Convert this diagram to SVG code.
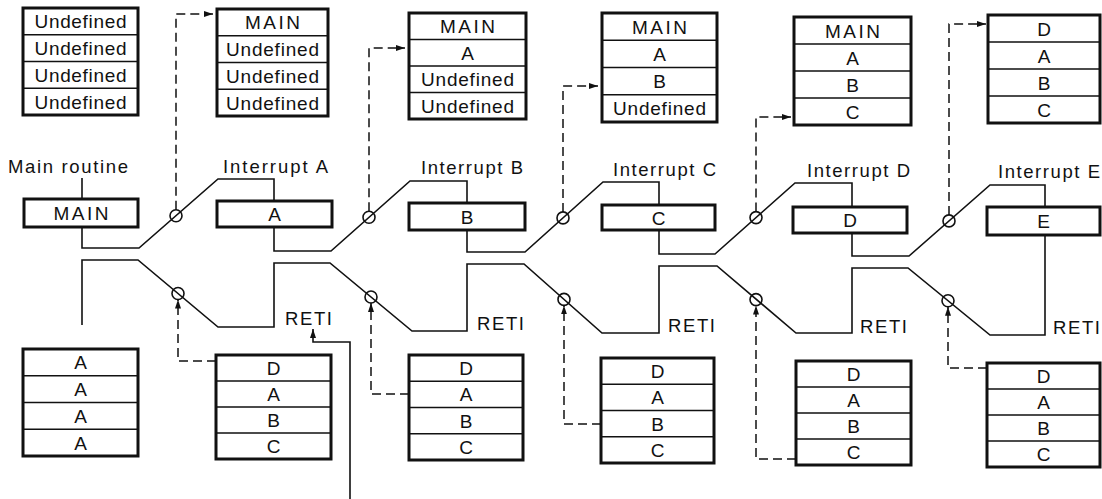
<svg xmlns="http://www.w3.org/2000/svg" width="1102" height="499" viewBox="0 0 1102 499">
<style>
.t{font-family:"Liberation Sans",Arial,Helvetica,sans-serif;font-size:19px;fill:#111;text-anchor:middle}
.l{font-family:"Liberation Sans",Arial,Helvetica,sans-serif;font-size:18.5px;fill:#111}
.box{fill:#fff;stroke:#111;stroke-width:3}
.div{stroke:#111;stroke-width:1.5}
.flow{fill:none;stroke:#111;stroke-width:1.6;stroke-linejoin:miter}
.dash{fill:none;stroke:#111;stroke-width:1.5;stroke-dasharray:9 5}
.ring{fill:none;stroke:#111;stroke-width:1.6}
</style>
<defs>
<marker id="ah" viewBox="0 0 9 6" refX="9" refY="3" markerWidth="9" markerHeight="6" markerUnits="userSpaceOnUse" orient="auto" preserveAspectRatio="none"><path d="M0,0 L9,3 L0,6 z" fill="#111"/></marker>
</defs>
<rect x="0" y="0" width="1102" height="499" fill="#fff"/>

<g id="connectors">
<path class="flow" d="M82,178 V199 M82,227 V248 H139 L218,179 H274 V201"/>
<path class="flow" d="M274,227 V251 H331 L410,181 H467 V203"/>
<path class="flow" d="M467,230 V252 H525 L603,182 H659 V205"/>
<path class="flow" d="M659,230 V254 H715 L795,183 H852 V207"/>
<path class="flow" d="M852,233 V256 H909 L990,185 H1045 V207"/>
<path class="flow" d="M1045,235 V335 H990 L908,268 H852 V333 H796 L717,266 H659 V333 H602 L524,264 H467 V331 H412 L330,263 H274 V327 H218 L138,260 H82 V325"/>
<circle class="ring" cx="176" cy="215.7" r="6"/>
<circle class="ring" cx="369" cy="217.3" r="6"/>
<circle class="ring" cx="563" cy="217.9" r="6"/>
<circle class="ring" cx="756" cy="217.6" r="6"/>
<circle class="ring" cx="949" cy="220.9" r="6"/>
<circle class="ring" cx="178" cy="293.5" r="6"/>
<circle class="ring" cx="371" cy="297" r="6"/>
<circle class="ring" cx="564" cy="299.4" r="6"/>
<circle class="ring" cx="756" cy="299.6" r="6"/>
<circle class="ring" cx="948" cy="300.7" r="6"/>
<path class="dash" d="M176,209.7 V14 H213" marker-end="url(#ah)"/>
<path class="dash" d="M369,211.3 V48 H405" marker-end="url(#ah)"/>
<path class="dash" d="M563,211.9 V86 H598" marker-end="url(#ah)"/>
<path class="dash" d="M756,211.6 V117 H791" marker-end="url(#ah)"/>
<path class="dash" d="M949,214.9 V24 H986" marker-end="url(#ah)"/>
<path class="dash" d="M216,361 H178 V299.5" marker-end="url(#ah)"/>
<path class="dash" d="M409,394 H371 V303" marker-end="url(#ah)"/>
<path class="dash" d="M601,424 H564 V305.4" marker-end="url(#ah)"/>
<path class="dash" d="M796,459 H756 V305.6" marker-end="url(#ah)"/>
<path class="dash" d="M987,368 H948 V306.7" marker-end="url(#ah)"/>
<path class="flow" d="M350,499 V342 H313 V329" marker-end="url(#ah)"/>
</g>

<g id="labels">
<text class="l" x="8" y="173" textLength="120" lengthAdjust="spacing">Main routine</text>
<text class="l" x="223" y="173" textLength="105" lengthAdjust="spacing">Interrupt A</text>
<text class="l" x="421" y="174" textLength="102" lengthAdjust="spacing">Interrupt B</text>
<text class="l" x="613" y="176" textLength="103" lengthAdjust="spacing">Interrupt C</text>
<text class="l" x="807" y="177" textLength="103" lengthAdjust="spacing">Interrupt D</text>
<text class="l" x="998" y="178" textLength="102" lengthAdjust="spacing">Interrupt E</text>
<text class="l" x="285" y="325" textLength="47" lengthAdjust="spacing">RETI</text>
<text class="l" x="477" y="330" textLength="47" lengthAdjust="spacing">RETI</text>
<text class="l" x="668" y="332" textLength="47" lengthAdjust="spacing">RETI</text>
<text class="l" x="860" y="333" textLength="47" lengthAdjust="spacing">RETI</text>
<text class="l" x="1053" y="334" textLength="47" lengthAdjust="spacing">RETI</text>
</g>

<g id="box-main"><rect class="box" x="24" y="199" width="114" height="28"/><text class="t" x="81" y="220" textLength="55" lengthAdjust="spacing">MAIN</text></g>
<g id="box-a"><rect class="box" x="217" y="201" width="115" height="26"/><text class="t" x="274.5" y="221">A</text></g>
<g id="box-b"><rect class="box" x="409" y="203" width="116" height="27"/><text class="t" x="467" y="223.5">B</text></g>
<g id="box-c"><rect class="box" x="602" y="205" width="113" height="25"/><text class="t" x="658.5" y="224.5">C</text></g>
<g id="box-d"><rect class="box" x="793" y="207" width="114" height="26"/><text class="t" x="850" y="227">D</text></g>
<g id="box-e"><rect class="box" x="987" y="207" width="113" height="28"/><text class="t" x="1043.5" y="228">E</text></g>

<g id="stack-top-0">
<rect class="box" x="23" y="8" width="115" height="107"/>
<path class="div" d="M23,34.75 H138 M23,61.5 H138 M23,88.25 H138"/>
<text class="t" x="80.5" y="28.4" textLength="92" lengthAdjust="spacing">Undefined</text>
<text class="t" x="80.5" y="55.1" textLength="92" lengthAdjust="spacing">Undefined</text>
<text class="t" x="80.5" y="81.9" textLength="92" lengthAdjust="spacing">Undefined</text>
<text class="t" x="80.5" y="108.6" textLength="92" lengthAdjust="spacing">Undefined</text>
</g>
<g id="stack-top-1">
<rect class="box" x="217" y="9" width="111" height="107"/>
<path class="div" d="M217,35.75 H328 M217,62.5 H328 M217,89.25 H328"/>
<text class="t" x="272.5" y="29.4" textLength="55" lengthAdjust="spacing">MAIN</text>
<text class="t" x="272.5" y="56.1" textLength="93" lengthAdjust="spacing">Undefined</text>
<text class="t" x="272.5" y="82.9" textLength="93" lengthAdjust="spacing">Undefined</text>
<text class="t" x="272.5" y="109.6" textLength="93" lengthAdjust="spacing">Undefined</text>
</g>
<g id="stack-top-2">
<rect class="box" x="409" y="13" width="117" height="106"/>
<path class="div" d="M409,39.5 H526 M409,66 H526 M409,92.5 H526"/>
<text class="t" x="467.5" y="33.25" textLength="55" lengthAdjust="spacing">MAIN</text>
<text class="t" x="467.5" y="59.75">A</text>
<text class="t" x="467.5" y="86.25" textLength="93" lengthAdjust="spacing">Undefined</text>
<text class="t" x="467.5" y="112.75" textLength="93" lengthAdjust="spacing">Undefined</text>
</g>
<g id="stack-top-3">
<rect class="box" x="602" y="13" width="115" height="109"/>
<path class="div" d="M602,40.25 H717 M602,67.5 H717 M602,94.75 H717"/>
<text class="t" x="659.5" y="33.6" textLength="55" lengthAdjust="spacing">MAIN</text>
<text class="t" x="659.5" y="60.9">A</text>
<text class="t" x="659.5" y="88.1">B</text>
<text class="t" x="659.5" y="115.4" textLength="93" lengthAdjust="spacing">Undefined</text>
</g>
<g id="stack-top-4">
<rect class="box" x="794" y="17" width="117" height="108"/>
<path class="div" d="M794,44 H911 M794,71 H911 M794,98 H911"/>
<text class="t" x="852.5" y="37.5" textLength="55" lengthAdjust="spacing">MAIN</text>
<text class="t" x="852.5" y="64.5">A</text>
<text class="t" x="852.5" y="91.5">B</text>
<text class="t" x="852.5" y="118.5">C</text>
</g>
<g id="stack-top-5">
<rect class="box" x="988" y="15" width="112" height="108"/>
<path class="div" d="M988,42 H1100 M988,69 H1100 M988,96 H1100"/>
<text class="t" x="1044" y="35.5">D</text>
<text class="t" x="1044" y="62.5">A</text>
<text class="t" x="1044" y="89.5">B</text>
<text class="t" x="1044" y="116.5">C</text>
</g>

<g id="stack-bot-0">
<rect class="box" x="23" y="349" width="115" height="107"/>
<path class="div" d="M23,375.75 H138 M23,402.5 H138 M23,429.25 H138"/>
<text class="t" x="80.5" y="369.4">A</text>
<text class="t" x="80.5" y="396.1">A</text>
<text class="t" x="80.5" y="422.9">A</text>
<text class="t" x="80.5" y="449.6">A</text>
</g>
<g id="stack-bot-1">
<rect class="box" x="216" y="355" width="115" height="104"/>
<path class="div" d="M216,381 H331 M216,407 H331 M216,433 H331"/>
<text class="t" x="273.5" y="375">D</text>
<text class="t" x="273.5" y="401">A</text>
<text class="t" x="273.5" y="427">B</text>
<text class="t" x="273.5" y="453">C</text>
</g>
<g id="stack-bot-2">
<rect class="box" x="409" y="355" width="114" height="105"/>
<path class="div" d="M409,381.25 H523 M409,407.5 H523 M409,433.75 H523"/>
<text class="t" x="466" y="375.1">D</text>
<text class="t" x="466" y="401.4">A</text>
<text class="t" x="466" y="427.6">B</text>
<text class="t" x="466" y="453.9">C</text>
</g>
<g id="stack-bot-3">
<rect class="box" x="601" y="358" width="113" height="105"/>
<path class="div" d="M601,384.25 H714 M601,410.5 H714 M601,436.75 H714"/>
<text class="t" x="657.5" y="378.1">D</text>
<text class="t" x="657.5" y="404.4">A</text>
<text class="t" x="657.5" y="430.6">B</text>
<text class="t" x="657.5" y="456.9">C</text>
</g>
<g id="stack-bot-4">
<rect class="box" x="796" y="361" width="115" height="104"/>
<path class="div" d="M796,387 H911 M796,413 H911 M796,439 H911"/>
<text class="t" x="853.5" y="381">D</text>
<text class="t" x="853.5" y="407">A</text>
<text class="t" x="853.5" y="433">B</text>
<text class="t" x="853.5" y="459">C</text>
</g>
<g id="stack-bot-5">
<rect class="box" x="987" y="363" width="113" height="104"/>
<path class="div" d="M987,389 H1100 M987,415 H1100 M987,441 H1100"/>
<text class="t" x="1043.5" y="383">D</text>
<text class="t" x="1043.5" y="409">A</text>
<text class="t" x="1043.5" y="435">B</text>
<text class="t" x="1043.5" y="461">C</text>
</g>
</svg>
